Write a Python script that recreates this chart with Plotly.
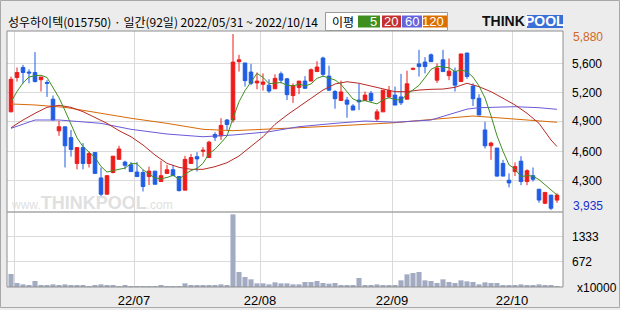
import plotly.graph_objects as go
import pandas as pd

# ---------------- data ----------------
month_days = {
    "2022-05": [31],
    "2022-06": [2, 3, 7, 8, 9, 10, 13, 14, 15, 16, 17, 20, 21, 22, 23, 24, 27, 28, 29, 30],
    "2022-07": [1, 4, 5, 6, 7, 8, 11, 12, 13, 14, 15, 18, 19, 20, 21, 22, 25, 26, 27, 28, 29],
    "2022-08": [1, 2, 3, 4, 5, 8, 9, 10, 11, 12, 16, 17, 18, 19, 22, 23, 24, 25, 26, 29, 30, 31],
    "2022-09": [1, 2, 5, 6, 7, 8, 13, 14, 15, 16, 19, 20, 21, 22, 23, 26, 27, 28, 29, 30],
    "2022-10": [4, 5, 6, 7, 11, 12, 13, 14],
}
dates = [f"{m}-{d:02d}" for m, ds in month_days.items() for d in ds]

open_ = [5020, 5400, 5510, 5460, 5455, 5375, 5345, 5160, 4810, 4855,
         4735, 4450, 4625, 4450, 4570, 4290, 4110, 4350, 4495, 4465,
         4435, 4355, 4350, 4305, 4365, 4250, 4340, 4380, 4305, 4155,
         4450, 4525, 4585, 4515, 4770, 4755, 4930, 4930, 5575, 5560,
         5460, 5340, 5325, 5315, 5275, 5440, 5385, 5200, 5290, 5360,
         5360, 5465, 5615, 5415, 5245, 5145, 5150, 5085, 5150, 5145,
         5225, 4940, 5020, 5185, 5205, 5185, 5160, 5490, 5550, 5570,
         5650, 5370, 5595, 5420, 5465, 5355, 5670, 5305, 5170, 4820,
         4645, 4620, 4450, 4265, 4360, 4475, 4250, 4315, 4165, 4010,
         4100, 4045]
high = [5410, 5510, 5540, 5490, 5680, 5405, 5370, 5200, 4920, 4855,
        4820, 4625, 4675, 4580, 4570, 4405, 4315, 4530, 4645, 4480,
        4465, 4465, 4380, 4415, 4365, 4480, 4435, 4435, 4305, 4535,
        4555, 4575, 4630, 4700, 4795, 4950, 4940, 5880, 5650, 5560,
        5550, 5455, 5445, 5380, 5435, 5465, 5395, 5335, 5360, 5415,
        5500, 5580, 5630, 5530, 5260, 5365, 5185, 5105, 5330, 5245,
        5250, 5050, 5260, 5305, 5300, 5440, 5475, 5510, 5705, 5625,
        5665, 5555, 5705, 5610, 5510, 5660, 5670, 5335, 5215, 4910,
        4690, 4620, 4490, 4340, 4460, 4530, 4385, 4405, 4165, 4130,
        4100, 4120]
low = [5020, 5355, 5335, 5335, 5345, 5245, 5185, 4930, 4755, 4405,
       4525, 4385, 4385, 4405, 4340, 4080, 4110, 4340, 4495, 4385,
       4360, 4305, 4140, 4210, 4220, 4250, 4340, 4315, 4140, 4155,
       4450, 4360, 4525, 4515, 4700, 4710, 4820, 4900, 5465, 5300,
       5315, 5270, 5255, 5230, 5275, 5335, 5150, 5120, 5215, 5280,
       5360, 5465, 5410, 5250, 5055, 5145, 4955, 5040, 5040, 5145,
       5130, 4920, 5020, 5170, 5095, 5095, 5160, 5480, 5410, 5445,
       5575, 5340, 5465, 5370, 5245, 5355, 5385, 5085, 4985, 4615,
       4490, 4305, 4310, 4185, 4310, 4210, 4210, 4250, 4015, 4000,
       3935, 4015]
close = [5380, 5455, 5455, 5450, 5355, 5405, 5335, 4930, 4855, 4645,
         4605, 4625, 4450, 4560, 4340, 4110, 4315, 4530, 4610, 4430,
         4360, 4305, 4195, 4365, 4220, 4315, 4380, 4315, 4150, 4495,
         4515, 4500, 4595, 4685, 4740, 4870, 4880, 5570, 5595, 5365,
         5335, 5360, 5350, 5250, 5390, 5370, 5210, 5310, 5360, 5280,
         5485, 5515, 5435, 5260, 5165, 5240, 5105, 5040, 5130, 5205,
         5145, 5020, 5260, 5255, 5095, 5120, 5330, 5500, 5520, 5520,
         5575, 5505, 5465, 5470, 5315, 5660, 5410, 5165, 4985, 4645,
         4675, 4310, 4310, 4235, 4415, 4250, 4370, 4275, 4045, 4130,
         3955, 4100]
volume = [344, 106, 70, 44, 159, 53, 53, 70, 53, 70,
          53, 53, 44, 26, 44, 70, 53, 44, 26, 44,
          18, 18, 18, 18, 26, 44, 18, 18, 18, 97,
          53, 53, 53, 53, 53, 70, 44, 1921, 396, 264,
          203, 97, 97, 70, 123, 97, 97, 70, 70, 132,
          132, 159, 106, 88, 106, 44, 44, 44, 238, 44,
          44, 70, 44, 44, 44, 176, 335, 370, 396, 176,
          159, 106, 203, 132, 106, 176, 150, 132, 70, 123,
          106, 106, 44, 44, 44, 70, 44, 44, 70, 44,
          44, 18]

ma5_head = [5130, 5245, 5340, 5405]
ma20_idx = list(range(0, 91, 2)) + [91]
ma20_val = [4845, 4930, 5004, 5070, 5092, 5070, 5022, 4960, 4893, 4812,
            4745, 4654, 4543, 4451, 4407, 4385, 4385, 4414, 4458, 4532,
            4643, 4745, 4882, 4985, 5077, 5170, 5261, 5328, 5353, 5336,
            5306, 5280, 5243, 5243, 5261, 5269, 5272, 5291, 5336, 5298,
            5243, 5170, 5096, 5004, 4893, 4709, 4637]
ma60_idx = [0, 4, 8, 15, 20, 26, 32, 37, 43, 48, 54, 59, 64, 66, 70, 73, 76, 78, 84, 88, 91]
ma60_val = [4838, 4930, 4930, 4893, 4827, 4775, 4745, 4764, 4800, 4856, 4893, 4919,
            4905, 4911, 4930, 4990, 5050, 5066, 5077, 5066, 5048]
ma120_idx = [0, 4, 9, 15, 20, 26, 32, 37, 43, 48, 54, 59, 64, 69, 74, 77, 80, 85, 91]
ma120_val = [5107, 5096, 5070, 5004, 4949, 4893, 4827, 4812, 4827, 4845, 4864, 4882,
             4900, 4930, 4960, 4974, 4960, 4938, 4905]

price_grid = [5556, 5236, 4919, 4580, 4259]
price_labels = ["5,600", "5,200", "4,900", "4,600", "4,300"]
price_max_label = "5,880"
price_min_label = "3,935"
vol_ticks = [1333, 672]
vol_labels = ["1333", "672"]

title_text = "성우하이텍(015750) · 일간(92일) 2022/05/31 ~ 2022/10/14"

# ---------------- derived ----------------
n = len(dates)
xi = list(range(n))
ma5 = pd.Series(close).rolling(5).mean().tolist()
ma5[:4] = ma5_head

dt = pd.to_datetime(dates)
month_start = [i for i in range(n) if i == 0 or dt[i].month != dt[i - 1].month][1:]
grid_x = [i - 0.5 for i in month_start]
grid_lbl = ["" if dt[i].month == 6 else dt[i].strftime("%y/%m") for i in month_start]

W, H = 620, 310
X0, X1 = 7, 563
Y_TOP, Y_SEP, Y_BOT = 31, 212, 287


def fx(px):
    return px / W


def fy(py):
    return 1 - py / H


RED = "#ee1b1b"
BLUE = "#1f5de4"
C5, C20, C60, C120 = "#3f8f1f", "#b82a26", "#6a5ad8", "#d86a06"

fig = go.Figure()

for xs, ys, col in [(ma120_idx, ma120_val, C120), (ma60_idx, ma60_val, C60),
                    (ma20_idx, ma20_val, C20), (xi, ma5, C5)]:
    fig.add_trace(go.Scatter(x=xs, y=ys, mode="lines", line=dict(color=col, width=1),
                             hoverinfo="skip", showlegend=False, xaxis="x", yaxis="y"))

fig.add_trace(go.Candlestick(
    x=xi, open=open_, high=high, low=low, close=close,
    increasing=dict(line=dict(color=RED, width=1), fillcolor=RED),
    decreasing=dict(line=dict(color=BLUE, width=1), fillcolor=BLUE),
    whiskerwidth=0, showlegend=False, xaxis="x", yaxis="y"))

fig.add_trace(go.Bar(x=xi, y=volume, marker=dict(color="#a3abc3", line=dict(width=0)),
                     width=0.85, showlegend=False, xaxis="x2", yaxis="y2"))

span = 556 / 6.0
xr = [-0.667, -0.667 + span]
grid_col = "#dadada"
axis_common = dict(range=xr, domain=[fx(X0), fx(X1)], tickvals=grid_x, showgrid=True,
                   gridcolor=grid_col, gridwidth=1, zeroline=False, ticks="",
                   rangeslider=dict(visible=False), fixedrange=True)

fig.update_layout(
    width=W, height=H, margin=dict(l=0, r=0, t=0, b=0),
    paper_bgcolor="#ececec", plot_bgcolor="#ffffff",
    boxgap=0.15,
    font=dict(family="Liberation Sans, Arial, sans-serif", size=12, color="#000"),
    xaxis=dict(**axis_common, anchor="y", showticklabels=False),
    xaxis2=dict(**axis_common, anchor="y2", ticktext=grid_lbl, showticklabels=True,
                tickfont=dict(size=13, color="#000"), ticklabelstandoff=4),
    yaxis=dict(domain=[fy(Y_SEP), fy(Y_TOP)], range=[6256 - 11.05 * Y_SEP, 6256 - 11.05 * Y_TOP],
               side="right", anchor="x", tickvals=price_grid, ticktext=price_labels,
               showgrid=True, gridcolor=grid_col, zeroline=False, ticks="",
               ticklabelstandoff=8, tickfont=dict(size=12), automargin=False),
    yaxis2=dict(domain=[fy(Y_BOT), fy(Y_SEP)], range=[0, 1983], side="right", anchor="x2",
                tickvals=vol_ticks, ticktext=vol_labels, showgrid=True, gridcolor=grid_col,
                zeroline=False, ticks="", ticklabelstandoff=8, tickfont=dict(size=12),
                automargin=False),
    showlegend=False,
)

shapes = [
    dict(type="rect", xref="paper", yref="paper", x0=fx(0.5), x1=fx(619.5), y0=fy(307.5), y1=fy(0.5),
         line=dict(color="#a8a8a8", width=1), layer="below"),
    dict(type="rect", xref="paper", yref="paper", x0=fx(X0), x1=fx(X1), y0=fy(Y_BOT), y1=fy(Y_TOP),
         line=dict(color="#8e8e8e", width=1)),
    dict(type="line", xref="paper", yref="paper", x0=fx(X0), x1=fx(X1), y0=fy(Y_SEP), y1=fy(Y_SEP),
         line=dict(color="#a6a6a6", width=1.5)),
    # legend box
    dict(type="rect", xref="paper", yref="paper", x0=fx(325.5), x1=fx(447.5), y0=fy(30.5), y1=fy(12.5),
         fillcolor="#ffffff", line=dict(color="#9a9a9a", width=1)),
]
legend_boxes = [("5", C5, 358, 380), ("20", "#c43030", 382, 401), ("60", "#6464dc", 402, 422),
                ("120", "#dc6e00", 423, 447)]
annotations = []
for txt, col, a, b in legend_boxes:
    shapes.append(dict(type="rect", xref="paper", yref="paper", x0=fx(a), x1=fx(b), y0=fy(27.5),
                       y1=fy(15.5), fillcolor=col, line=dict(width=0)))
    annotations.append(dict(xref="paper", yref="paper", x=fx(b - 1), y=fy(21.5), text=txt,
                            showarrow=False, xanchor="right", yanchor="middle",
                            font=dict(color="#ffffff", size=13, family="Liberation Sans")))
annotations.append(dict(xref="paper", yref="paper", x=fx(330), y=fy(21.5), text="이평", showarrow=False,
                        xanchor="left", yanchor="middle",
                        font=dict(size=12, family="Noto Sans CJK KR", color="#000")))
# logo
shapes.append(dict(type="rect", xref="paper", yref="paper", x0=fx(527), x1=fx(563), y0=fy(28),
                   y1=fy(15), fillcolor="#3a6fd8", line=dict(width=0)))
annotations.append(dict(xref="paper", yref="paper", x=fx(527), y=fy(21.5), text="<b>THINK</b>",
                        showarrow=False, xanchor="right", yanchor="middle",
                        font=dict(size=14, family="Liberation Sans", color="#111")))
annotations.append(dict(xref="paper", yref="paper", x=fx(545), y=fy(21.5), text="<b>POOL</b>",
                        showarrow=False, xanchor="center", yanchor="middle",
                        font=dict(size=14, family="Liberation Sans", color="#ffffff")))
# title
annotations.append(dict(xref="paper", yref="paper", x=fx(6), y=fy(22), text=title_text,
                        showarrow=False, xanchor="left", yanchor="middle",
                        font=dict(size=12, family="Noto Sans CJK KR", color="#000")))
# max / min labels
annotations.append(dict(xref="paper", yref="y", x=fx(571), y=max(high), yshift=-3, text=price_max_label,
                        showarrow=False, xanchor="left", yanchor="middle",
                        font=dict(size=12, color="#d2691e")))
annotations.append(dict(xref="paper", yref="y", x=fx(571), y=min(low), yshift=4, text=price_min_label,
                        showarrow=False, xanchor="left", yanchor="middle",
                        font=dict(size=12, color="#1a2fd0")))
annotations.append(dict(xref="paper", yref="paper", x=fx(575), y=fy(288), text="x10000",
                        showarrow=False, xanchor="left", yanchor="middle",
                        font=dict(size=12, color="#000")))
# watermark
annotations.append(dict(xref="paper", yref="paper", x=fx(92), y=fy(203),
                        text="<span style='font-size:12px'>www.</span><b>THINKPOOL</b><span style='font-size:12px'>.com</span>",
                        showarrow=False, xanchor="center", yanchor="middle",
                        font=dict(size=18, family="Liberation Sans", color="#e0e0e0")))

fig.update_layout(shapes=shapes, annotations=annotations)
fig.write_html("out.html")
